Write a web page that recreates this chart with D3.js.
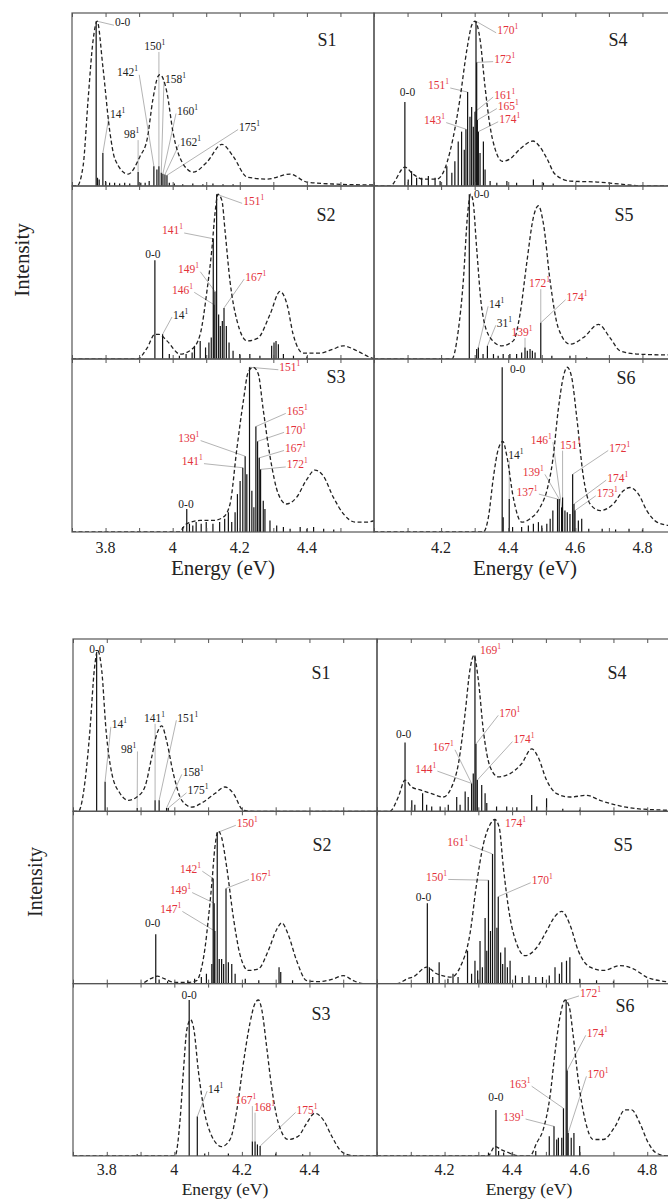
<!DOCTYPE html>
<html>
<head>
<meta charset="UTF-8">
<title>Vibronic spectra S1-S6</title>
<script src="https://d3js.org/d3.v7.min.js"></script>
<style>
body { margin: 0; background: #fff; }
svg { display: block; }
svg text { font-family: "Liberation Serif", "DejaVu Serif", serif; }
.frame { fill: none; stroke: #555; stroke-width: 1.2; }
.env { fill: none; stroke: #222; stroke-width: 1.3; stroke-dasharray: 4,2.5; }
.stick { stroke: #111; stroke-width: 1.2; }
.lead { stroke: #b4b4b4; stroke-width: 1; }
.tk line { stroke: #555; }
</style>
</head>
<body>
<script>

// ---------- data: [energy eV, relative intensity] ----------
// label rows: [mode, red?, textE, textI, stickE, stickI]

// upper figure
var envT1 = [[3.70,0],[3.715,0],[3.733,0.12],[3.748,0.525],[3.763,0.887],[3.775,1.0],[3.792,0.724],[3.813,0.326],[3.828,0.163],[3.867,0.072],[3.903,0.181],[3.924,0.284],[3.941,0.525],[3.956,0.664],[3.962,0.676],[3.983,0.567],[4.001,0.326],[4.028,0.145],[4.061,0.084],[4.102,0.145],[4.147,0.253],[4.180,0.181],[4.222,0.054],[4.281,0.042],[4.350,0.072],[4.400,0.024],[4.478,0.012],[4.603,0.006]];
var stkT1 = [[3.772,1.0],[3.776,0.05],[3.781,0.04],[3.792,0.2],[3.800,0.03],[3.812,0.02],[3.827,0.02],[3.842,0.015],[3.857,0.02],[3.872,0.015],[3.897,0.085],[3.905,0.02],[3.918,0.02],[3.930,0.03],[3.944,0.12],[3.953,0.1],[3.959,0.12],[3.966,0.08],[3.971,0.075],[3.977,0.07],[3.983,0.065],[3.990,0.02],[4.005,0.015],[4.03,0.01],[4.06,0.015],[4.09,0.01],[4.12,0.015],[4.15,0.01],[4.18,0.01]];
var labT1 = [["0-0",0,3.828,0.994,3.775,1.0],["150",0,3.915,0.85,3.959,0.12],["142",0,3.834,0.69,3.944,0.12],["158",0,3.977,0.65,3.966,0.08],["14",0,3.813,0.436,3.792,0.2],["160",0,4.013,0.455,3.971,0.075],["98",0,3.855,0.315,3.897,0.085],["162",0,4.022,0.267,3.977,0.07],["175",0,4.198,0.358,3.983,0.065]];

var envT2 = [[3.70,0],[3.894,0],[3.924,0.067],[3.947,0.15],[3.959,0.15],[3.983,0.11],[4.022,0.03],[4.058,0.06],[4.082,0.15],[4.102,0.41],[4.117,0.67],[4.126,0.88],[4.135,1.0],[4.147,0.96],[4.156,0.78],[4.171,0.47],[4.192,0.23],[4.222,0.11],[4.254,0.127],[4.290,0.27],[4.320,0.41],[4.341,0.33],[4.359,0.15],[4.389,0.036],[4.439,0.036],[4.478,0.06],[4.508,0.08],[4.549,0.05],[4.588,0.01],[4.603,0]];
var stkT2 = [[3.947,0.6],[3.970,0.15],[3.99,0.03],[4.02,0.02],[4.04,0.03],[4.058,0.04],[4.065,0.08],[4.082,0.11],[4.098,0.07],[4.108,0.1],[4.115,0.13],[4.121,0.73],[4.123,0.33],[4.126,0.41],[4.131,1.0],[4.137,0.27],[4.142,0.2],[4.148,0.23],[4.153,0.31],[4.160,0.2],[4.168,0.1],[4.18,0.05],[4.2,0.03],[4.23,0.03],[4.26,0.02],[4.295,0.08],[4.302,0.1],[4.308,0.11],[4.315,0.09],[4.33,0.03],[4.36,0.02],[4.4,0.015]];
var labT2 = [["151",1,4.210,0.96,4.131,1.0],["141",1,3.968,0.78,4.121,0.73],["0-0",0,3.918,0.64,null,null],["149",1,4.016,0.545,4.126,0.41],["146",1,3.998,0.42,4.123,0.33],["167",1,4.216,0.5,4.153,0.31],["14",0,4.001,0.27,3.970,0.15]];

var envT3 = [[3.70,0],[4.017,0],[4.042,0.05],[4.082,0.07],[4.121,0.07],[4.151,0.09],[4.171,0.17],[4.191,0.5],[4.211,0.8],[4.225,0.97],[4.240,1.0],[4.255,0.96],[4.270,0.74],[4.290,0.46],[4.315,0.23],[4.339,0.17],[4.369,0.21],[4.400,0.32],[4.424,0.376],[4.449,0.34],[4.479,0.21],[4.509,0.11],[4.544,0.06],[4.578,0.06],[4.603,0.07]];
var stkT3 = [[4.042,0.14],[4.03,0.03],[4.05,0.05],[4.06,0.04],[4.07,0.06],[4.085,0.05],[4.1,0.06],[4.12,0.05],[4.14,0.06],[4.155,0.08],[4.166,0.12],[4.176,0.06],[4.186,0.12],[4.193,0.23],[4.201,0.31],[4.209,0.39],[4.216,0.46],[4.221,0.35],[4.229,1.0],[4.236,0.25],[4.242,0.15],[4.248,0.64],[4.253,0.55],[4.258,0.45],[4.262,0.38],[4.270,0.19],[4.275,0.14],[4.29,0.07],[4.31,0.04],[4.33,0.03],[4.35,0.02],[4.38,0.03],[4.4,0.02],[4.42,0.03],[4.45,0.02],[4.48,0.015]];
var labT3 = [["151",1,4.318,1.0,4.229,1.0],["165",1,4.34,0.735,4.248,0.64],["170",1,4.335,0.62,4.253,0.55],["167",1,4.335,0.51,4.258,0.45],["172",1,4.34,0.41,4.262,0.38],["139",1,4.017,0.57,4.216,0.46],["141",1,4.027,0.43,4.209,0.39],["0-0",0,4.017,0.17,null,null]];

var envT4 = [[4.0,0],[4.048,0],[4.092,0.115],[4.116,0.073],[4.146,0.042],[4.188,0.042],[4.218,0.145],[4.235,0.285],[4.256,0.527],[4.277,0.83],[4.292,0.98],[4.301,1.0],[4.316,0.89],[4.331,0.6],[4.346,0.36],[4.361,0.224],[4.382,0.15],[4.405,0.164],[4.435,0.224],[4.474,0.273],[4.495,0.236],[4.516,0.164],[4.539,0.073],[4.584,0.03],[4.665,0.024],[4.733,0.012],[4.802,0],[4.9,0]];
var stkT4 = [[4.092,0.51],[4.102,0.04],[4.112,0.09],[4.127,0.05],[4.142,0.05],[4.162,0.06],[4.182,0.05],[4.197,0.03],[4.217,0.12],[4.232,0.08],[4.241,0.15],[4.251,0.27],[4.261,0.33],[4.269,0.22],[4.274,0.345],[4.279,0.57],[4.286,0.42],[4.291,0.48],[4.296,0.36],[4.301,0.45],[4.304,1.0],[4.306,0.75],[4.308,0.4],[4.311,0.33],[4.316,0.2],[4.326,0.27],[4.331,0.1],[4.346,0.03],[4.366,0.02],[4.396,0.03],[4.425,0.02],[4.475,0.04],[4.505,0.02],[4.534,0.015]];
var labT4 = [["170",1,4.367,0.945,4.304,1.0],["172",1,4.358,0.77,4.306,0.75],["151",1,4.161,0.61,4.279,0.57],["161",1,4.358,0.555,4.301,0.45],["165",1,4.369,0.485,4.308,0.4],["174",1,4.373,0.405,4.311,0.33],["143",1,4.149,0.40,4.274,0.345],["0-0",0,4.077,0.57,null,null]];

var envT5 = [[4.0,0],[4.232,0],[4.251,0.17],[4.266,0.47],[4.279,0.88],[4.288,1.0],[4.295,0.96],[4.306,0.67],[4.321,0.31],[4.346,0.13],[4.381,0.08],[4.415,0.11],[4.435,0.27],[4.455,0.58],[4.475,0.86],[4.490,0.93],[4.505,0.82],[4.525,0.47],[4.549,0.19],[4.584,0.09],[4.624,0.13],[4.669,0.21],[4.703,0.13],[4.733,0.05],[4.783,0.03],[4.876,0.025],[4.9,0.025]];
var stkT5 = [[4.284,1.0],[4.306,0.06],[4.311,0.07],[4.325,0.03],[4.338,0.08],[4.356,0.03],[4.37,0.02],[4.385,0.03],[4.405,0.03],[4.425,0.03],[4.44,0.04],[4.450,0.07],[4.457,0.05],[4.465,0.06],[4.472,0.05],[4.480,0.04],[4.497,0.22],[4.53,0.02],[4.584,0.02],[4.634,0.01]];
var labT5 = [["0-0",0,4.298,1.0,null,null],["14",0,4.343,0.335,4.311,0.07],["31",0,4.366,0.22,4.338,0.08],["139",1,4.41,0.165,4.45,0.07],["172",1,4.462,0.46,4.497,0.22],["174",1,4.574,0.375,4.497,0.22]];

var envT6 = [[4.0,0],[4.326,0],[4.341,0.09],[4.356,0.335],[4.370,0.5],[4.384,0.55],[4.396,0.46],[4.415,0.21],[4.440,0.06],[4.465,0.08],[4.495,0.15],[4.515,0.25],[4.533,0.44],[4.549,0.74],[4.564,0.94],[4.576,1.0],[4.589,0.94],[4.604,0.7],[4.624,0.335],[4.644,0.17],[4.674,0.13],[4.713,0.17],[4.743,0.25],[4.763,0.27],[4.788,0.23],[4.813,0.13],[4.843,0.06],[4.876,0.04],[4.9,0.03]];
var stkT6 = [[4.382,1.0],[4.385,0.09],[4.403,0.2],[4.413,0.03],[4.44,0.03],[4.46,0.04],[4.475,0.05],[4.49,0.06],[4.5,0.04],[4.515,0.05],[4.525,0.08],[4.533,0.13],[4.547,0.2],[4.552,0.2],[4.559,0.15],[4.562,0.21],[4.569,0.13],[4.576,0.12],[4.584,0.11],[4.592,0.35],[4.596,0.17],[4.599,0.13],[4.609,0.07],[4.619,0.08],[4.64,0.02],[4.68,0.02],[4.72,0.015],[4.76,0.02],[4.8,0.015]];
var labT6 = [["0-0",0,4.405,0.99,null,null],["14",0,4.4,0.47,4.403,0.2],["146",1,4.467,0.56,4.559,0.15],["151",1,4.554,0.53,4.562,0.21],["172",1,4.701,0.51,4.592,0.35],["139",1,4.443,0.365,4.552,0.2],["174",1,4.695,0.33,4.596,0.17],["137",1,4.425,0.245,4.547,0.2],["173",1,4.664,0.235,4.599,0.13]];

// lower figure
var envB1 = [[3.70,0],[3.716,0],[3.736,0.19],[3.750,0.49],[3.763,0.86],[3.773,0.98],[3.785,0.86],[3.798,0.49],[3.815,0.23],[3.839,0.11],[3.864,0.067],[3.889,0.087],[3.913,0.15],[3.933,0.33],[3.948,0.47],[3.963,0.52],[3.977,0.43],[3.997,0.23],[4.022,0.067],[4.051,0.026],[4.086,0.057],[4.120,0.108],[4.150,0.148],[4.175,0.108],[4.204,0.006],[4.233,0],[4.6,0]];
var stkB1 = [[3.770,0.96],[3.795,0.18],[3.890,0.02],[3.943,0.067],[3.955,0.067],[3.977,0.02],[3.982,0.02]];
var labB1 = [["0-0",0,3.748,0.99,null,null],["14",0,3.815,0.53,3.795,0.18],["141",0,3.910,0.57,3.943,0.067],["151",0,4.009,0.57,3.955,0.067],["98",0,3.842,0.38,3.890,0.02],["158",0,4.025,0.24,3.977,0.02],["175",0,4.039,0.128,3.982,0.02]];

var envB2 = [[3.70,0],[3.90,0],[3.93,0.03],[3.95,0.045],[3.97,0.03],[4.0,0.008],[4.04,0.008],[4.066,0.018],[4.076,0.06],[4.091,0.22],[4.101,0.40],[4.111,0.61],[4.120,0.83],[4.130,0.93],[4.140,0.89],[4.155,0.71],[4.175,0.40],[4.194,0.18],[4.219,0.08],[4.249,0.09],[4.278,0.2],[4.303,0.33],[4.318,0.37],[4.337,0.30],[4.362,0.14],[4.392,0.018],[4.43,0.012],[4.471,0.029],[4.500,0.049],[4.530,0.018],[4.56,0],[4.6,0]];
var stkB2 = [[3.945,0.30],[3.955,0.025],[3.98,0.015],[4.04,0.02],[4.06,0.03],[4.08,0.04],[4.095,0.06],[4.111,0.12],[4.115,0.64],[4.118,0.49],[4.120,0.32],[4.127,0.92],[4.133,0.15],[4.14,0.15],[4.146,0.12],[4.153,0.58],[4.16,0.13],[4.17,0.12],[4.18,0.06],[4.21,0.03],[4.25,0.02],[4.31,0.1],[4.315,0.07],[4.35,0.02]];
var labB2 = [["150",1,4.185,0.98,4.127,0.92],["142",1,4.017,0.70,4.115,0.64],["167",1,4.224,0.65,4.153,0.58],["149",1,3.987,0.57,4.118,0.49],["147",1,3.958,0.455,4.120,0.32],["0-0",0,3.913,0.37,null,null]];

var envB3 = [[3.70,0],[4.002,0],[4.017,0.22],[4.027,0.52],[4.037,0.77],[4.048,0.83],[4.058,0.77],[4.071,0.52],[4.088,0.28],[4.111,0.12],[4.140,0.057],[4.165,0.1],[4.185,0.28],[4.204,0.56],[4.224,0.81],[4.239,0.93],[4.249,0.95],[4.259,0.89],[4.273,0.67],[4.288,0.42],[4.308,0.2],[4.337,0.1],[4.367,0.12],[4.392,0.2],[4.416,0.26],[4.441,0.22],[4.466,0.12],[4.490,0.037],[4.515,0.006],[4.54,0],[4.6,0]];
var stkB3 = [[4.044,0.95],[4.068,0.24],[3.89,0.01],[4.09,0.015],[4.16,0.015],[4.231,0.087],[4.239,0.087],[4.246,0.07],[4.254,0.06],[4.30,0.015],[4.38,0.01]];
var labB3 = [["0-0",0,4.021,0.98,null,null],["14",0,4.1,0.41,4.068,0.24],["167",1,4.18,0.34,4.231,0.087],["168",1,4.236,0.30,4.239,0.087],["175",1,4.362,0.28,4.254,0.06]];

var envB4 = [[4.0,0],[4.038,0],[4.063,0.087],[4.083,0.19],[4.103,0.148],[4.132,0.128],[4.162,0.108],[4.196,0.087],[4.221,0.148],[4.241,0.29],[4.261,0.6],[4.275,0.86],[4.287,0.95],[4.300,0.8],[4.315,0.49],[4.335,0.27],[4.359,0.21],[4.394,0.23],[4.428,0.29],[4.458,0.38],[4.477,0.33],[4.502,0.19],[4.532,0.108],[4.571,0.087],[4.621,0.097],[4.660,0.067],[4.710,0.037],[4.769,0.016],[4.861,0.006],[4.9,0]];
var stkB4 = [[4.083,0.42],[4.103,0.067],[4.112,0.04],[4.135,0.11],[4.147,0.04],[4.162,0.03],[4.187,0.03],[4.211,0.04],[4.236,0.087],[4.246,0.04],[4.261,0.12],[4.270,0.087],[4.280,0.17],[4.285,0.23],[4.290,0.95],[4.293,0.41],[4.297,0.19],[4.310,0.16],[4.320,0.11],[4.325,0.05],[4.354,0.03],[4.384,0.03],[4.414,0.025],[4.458,0.1],[4.473,0.03],[4.502,0.08],[4.55,0.015],[4.6,0.01]];
var labB4 = [["169",1,4.305,0.98,null,null],["0-0",0,4.056,0.47,null,null],["170",1,4.362,0.6,4.293,0.41],["174",1,4.404,0.44,4.297,0.19],["167",1,4.165,0.39,4.280,0.17],["144",1,4.113,0.26,4.280,0.17]];

var envB5 = [[4.0,0],[4.06,0],[4.09,0.03],[4.107,0.04],[4.147,0.1],[4.177,0.06],[4.221,0.04],[4.246,0.1],[4.275,0.30],[4.295,0.61],[4.315,0.85],[4.335,0.97],[4.349,1.0],[4.362,0.95],[4.374,0.71],[4.394,0.40],[4.414,0.24],[4.438,0.17],[4.473,0.22],[4.502,0.32],[4.527,0.41],[4.547,0.44],[4.571,0.36],[4.596,0.2],[4.631,0.1],[4.670,0.08],[4.719,0.11],[4.759,0.09],[4.798,0.04],[4.861,0.01],[4.9,0]];
var stkB5 = [[4.149,0.49],[4.155,0.1],[4.165,0.04],[4.184,0.13],[4.21,0.03],[4.225,0.06],[4.24,0.04],[4.268,0.2],[4.28,0.06],[4.29,0.14],[4.298,0.08],[4.305,0.26],[4.312,0.1],[4.320,0.4],[4.325,0.2],[4.330,0.63],[4.336,0.32],[4.342,0.79],[4.349,1.0],[4.355,0.34],[4.359,0.53],[4.366,0.19],[4.372,0.12],[4.379,0.22],[4.386,0.1],[4.394,0.14],[4.41,0.05],[4.43,0.04],[4.45,0.05],[4.47,0.04],[4.49,0.04],[4.51,0.05],[4.527,0.1],[4.54,0.06],[4.547,0.13],[4.561,0.14],[4.571,0.16],[4.6,0.03],[4.65,0.02],[4.7,0.015]];
var labB5 = [["174",1,4.379,0.98,null,null],["161",1,4.208,0.86,4.342,0.79],["150",1,4.145,0.65,4.330,0.63],["170",1,4.458,0.63,4.359,0.53],["0-0",0,4.115,0.53,null,null]];

var envB6 = [[4.0,0],[4.329,0],[4.349,0.057],[4.369,0.037],[4.394,0.016],[4.42,0],[4.453,0],[4.473,0.08],[4.492,0.16],[4.512,0.36],[4.527,0.63],[4.542,0.85],[4.557,0.95],[4.569,0.91],[4.581,0.73],[4.596,0.46],[4.616,0.22],[4.640,0.1],[4.670,0.1],[4.705,0.18],[4.734,0.28],[4.754,0.28],[4.778,0.2],[4.803,0.08],[4.828,0.016],[4.861,0],[4.9,0]];
var stkB6 = [[4.352,0.28],[4.33,0.02],[4.36,0.03],[4.375,0.02],[4.40,0.02],[4.47,0.03],[4.510,0.12],[4.524,0.18],[4.532,0.1],[4.537,0.11],[4.547,0.11],[4.552,0.29],[4.560,0.95],[4.563,0.52],[4.566,0.14],[4.575,0.11],[4.583,0.14],[4.6,0.06]];
var labB6 = [["172",1,4.601,0.99,4.560,0.95],["174",1,4.621,0.75,4.563,0.52],["170",1,4.623,0.50,4.566,0.14],["163",1,4.392,0.44,4.552,0.29],["0-0",0,4.329,0.36,null,null],["139",1,4.374,0.24,4.524,0.18]];

var stateNames = ["S1", "S2", "S3", "S4", "S5", "S6"];
var domLeft = [3.7, 4.6], domRight = [4.0, 4.9];
var tickLabLeft = ["3.8", "4", "4.2", "4.4"];
var tickLabRight = ["4.2", "4.4", "4.6", "4.8"];

// ---------- layout ----------
var width = 668, height = 1200;
var red = '#e3323b';
var serif = '"Liberation Serif", "DejaVu Serif", serif';

var svg = d3.select('body').append('svg')
  .attr('width', width)
  .attr('height', height);

var blocks = [
  { top: 13, left: 72, w: 302, h: 173, eFont: 21, eBase: 575, tickBase: 20.5, yLab: [29, 260, 21],
    panels: [[envT1, stkT1, labT1], [envT2, stkT2, labT2], [envT3, stkT3, labT3],
             [envT4, stkT4, labT4], [envT5, stkT5, labT5], [envT6, stkT6, labT6]],
    nameOff: [[255, 33], [254, 35], [264, 24], [244, 33], [250, 35], [252, 25]] },
  { top: 639, left: 73, w: 304, h: 172.3, eFont: 17.5, eBase: 1195, tickBase: 19, yLab: [42, 882, 20],
    panels: [[envB1, stkB1, labB1], [envB2, stkB2, labB2], [envB3, stkB3, labB3],
             [envB4, stkB4, labB4], [envB5, stkB5, labB5], [envB6, stkB6, labB6]],
    nameOff: [[248, 40], [249, 40], [248, 36], [240, 40], [246, 40], [248, 28]] }
];

blocks.forEach(function(b, bi) {
  b.panels.forEach(function(p, i) {
    var col = i < 3 ? 0 : 1, row = i % 3;
    var px = b.left + col * b.w, py = b.top + row * b.h;
    var x = d3.scaleLinear().domain(col ? domRight : domLeft).range([0, b.w]);
    var y = d3.scaleLinear().domain([0, 1.05]).range([b.h, 0]);

    var g = svg.append('g').attr('transform', 'translate(' + px + ',' + py + ')');
    var clipId = 'clip' + bi + '_' + i;
    g.append('clipPath').attr('id', clipId)
      .append('rect').attr('width', b.w).attr('height', b.h);

    var gLead = g.append('g');
    var gStick = g.append('g').attr('clip-path', 'url(#' + clipId + ')');
    var gEnv = g.append('g').attr('clip-path', 'url(#' + clipId + ')');
    var gText = g.append('g');

    // sticks
    gStick.selectAll('line').data(p[1]).enter().append('line')
      .attr('class', 'stick')
      .attr('x1', function(d) { return x(d[0]); })
      .attr('x2', function(d) { return x(d[0]); })
      .attr('y1', y(0))
      .attr('y2', function(d) { return y(d[1]); });

    // envelope
    var line = d3.line()
      .x(function(d) { return x(d[0]); })
      .y(function(d) { return y(d[1]); })
      .curve(d3.curveMonotoneX);
    gEnv.append('path').attr('class', 'env').attr('d', line(p[0]));

    // ticks, every 0.1 eV, pointing inward
    var dom = x.domain();
    var tv = d3.range(Math.round(dom[0] * 10), Math.round(dom[1] * 10) + 1).map(function(d) { return d / 10; });
    g.append('g').attr('class', 'tk')
      .call(d3.axisTop(x).tickValues(tv).tickSize(-4).tickFormat(''))
      .call(function(a) { a.select('.domain').remove(); });
    g.append('g').attr('class', 'tk')
      .attr('transform', 'translate(0,' + b.h + ')')
      .call(d3.axisBottom(x).tickValues(tv).tickSize(-4).tickFormat(''))
      .call(function(a) { a.select('.domain').remove(); });

    g.append('rect').attr('class', 'frame').attr('width', b.w).attr('height', b.h);

    // tick labels on bottom row
    if (row === 2) {
      var labs = col ? tickLabRight : tickLabLeft;
      g.selectAll('.tl').data(labs).enter().append('text')
        .attr('class', 'tl')
        .attr('x', function(d) { return x(+d); })
        .attr('y', b.h + b.tickBase)
        .attr('text-anchor', 'middle')
        .attr('font-family', serif)
        .attr('font-size', 16)
        .attr('fill', '#222')
        .text(function(d) { return d; });
      g.append('text')
        .attr('x', b.w / 2)
        .attr('y', b.eBase - py)
        .attr('text-anchor', 'middle')
        .attr('font-family', serif)
        .attr('font-size', b.eFont)
        .attr('fill', '#222')
        .text('Energy (eV)');
    }

    // state name
    g.append('text')
      .attr('x', b.nameOff[i][0]).attr('y', b.nameOff[i][1])
      .attr('text-anchor', 'middle')
      .attr('font-family', serif)
      .attr('font-size', 18)
      .attr('fill', '#222')
      .text(stateNames[i]);

    // mode labels with leader lines
    p[2].forEach(function(d) {
      var t = gText.append('text')
        .attr('x', x(d[2]))
        .attr('y', y(d[3]) + 4)
        .attr('fill', d[1] ? red : '#222')
        .attr('font-family', serif)
        .attr('font-size', 11.5);
      if (d[0] === '0-0') {
        t.text('0-0');
      } else {
        t.append('tspan').text(d[0]);
        t.append('tspan').attr('dy', -5).attr('font-size', 7.5).text('1');
      }
      if (d[4] == null) return;
      var bb = t.node().getBBox();
      var tx = x(d[4]), ty = y(d[5]);
      var sx, sy;
      if (tx < bb.x) { sx = bb.x - 1; sy = bb.y + bb.height * 0.75; }
      else if (tx > bb.x + bb.width) { sx = bb.x + bb.width + 1; sy = bb.y + bb.height * 0.75; }
      else { sx = tx; sy = bb.y + bb.height; }
      gLead.append('line').attr('class', 'lead')
        .attr('x1', sx).attr('y1', sy)
        .attr('x2', tx).attr('y2', ty);
    });
  });

  svg.append('text')
    .attr('transform', 'translate(' + b.yLab[0] + ',' + b.yLab[1] + ') rotate(-90)')
    .attr('text-anchor', 'middle')
    .attr('font-family', serif)
    .attr('font-size', b.yLab[2])
    .attr('fill', '#222')
    .text('Intensity');
});

</script>
</body>
</html>
